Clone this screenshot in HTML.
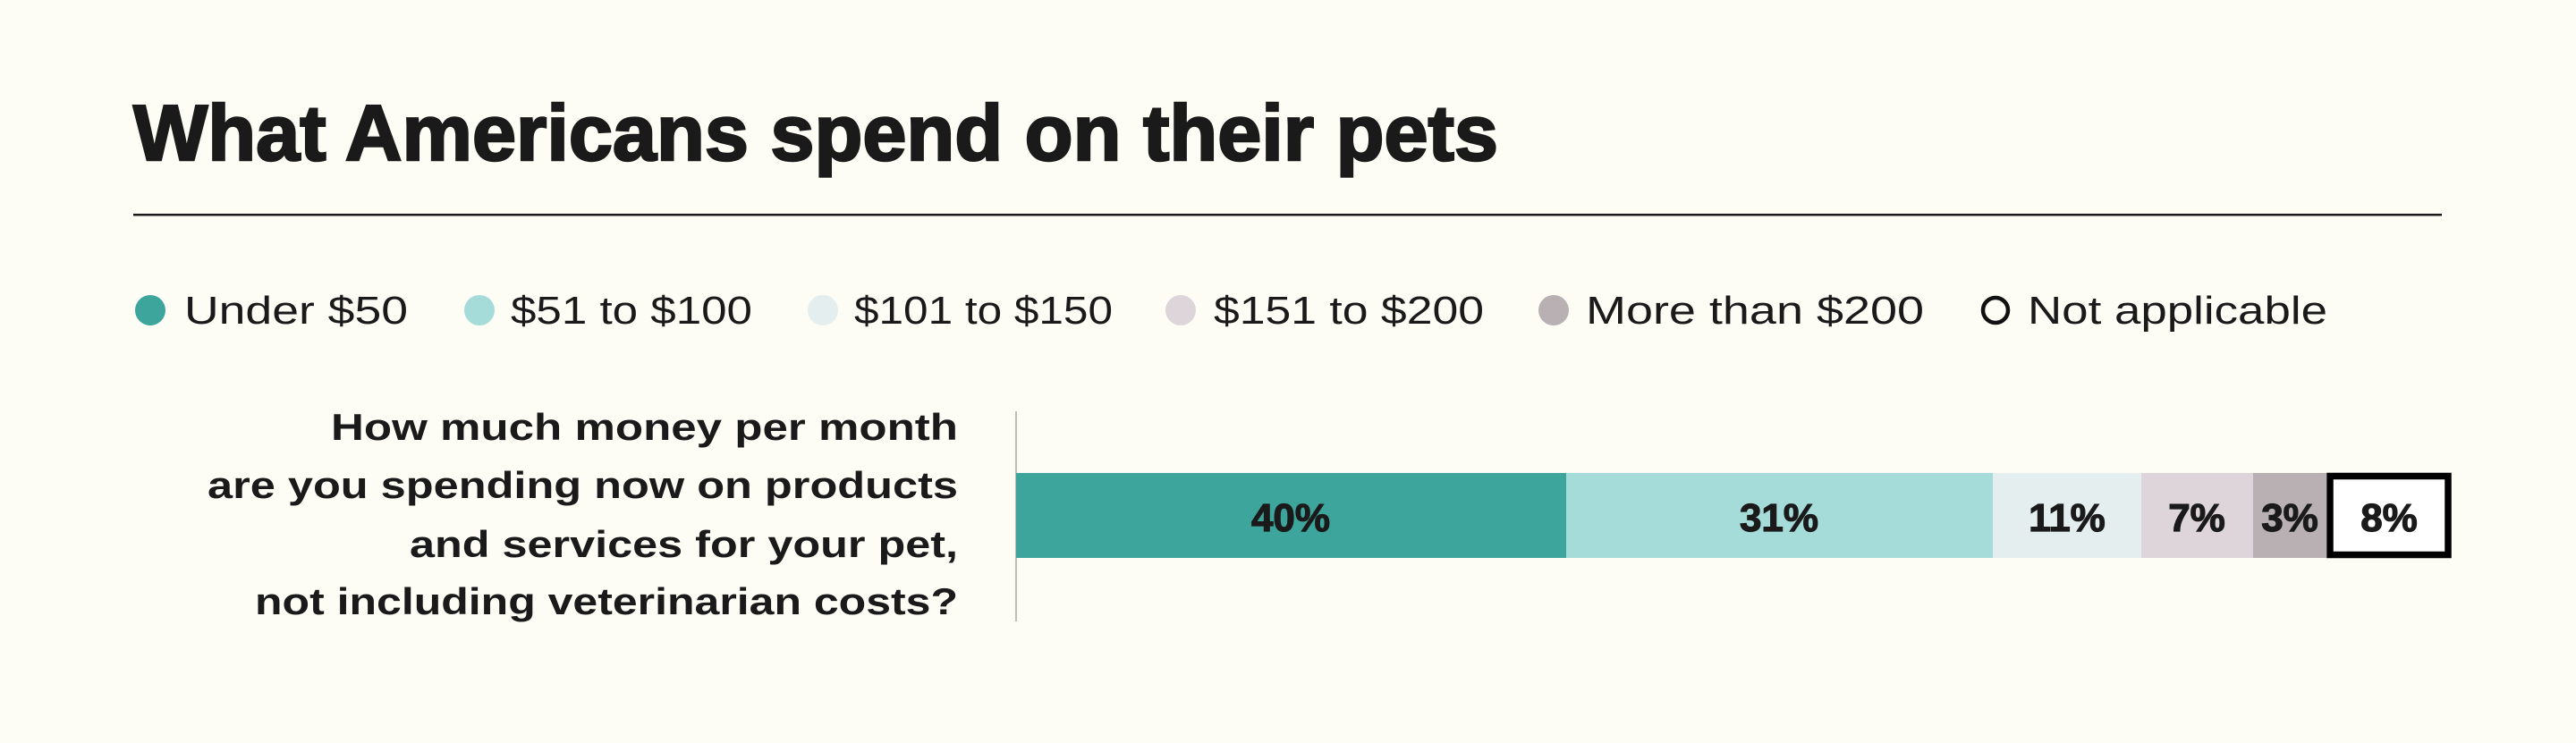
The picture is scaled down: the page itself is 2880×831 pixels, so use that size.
<!DOCTYPE html>
<html><head><style>
html,body{margin:0;padding:0;background:#fdfdf6;}
svg{display:block;}
text{font-family:"Liberation Sans",sans-serif;fill:#1a1a1a;}
</style></head><body>
<svg width="2880" height="831" viewBox="0 0 2880 831" xmlns="http://www.w3.org/2000/svg">
<rect width="2880" height="831" fill="#fdfdf6"/>
<text x="149" y="179" font-size="88" font-weight="bold" stroke="#1a1a1a" stroke-width="2.5" textLength="1526" lengthAdjust="spacingAndGlyphs">What Americans spend on their pets</text>
<rect x="149" y="239" width="2581" height="2.5" fill="#1a1a1a"/>
<g font-size="44">
<circle cx="168" cy="347" r="17" fill="#3ea59d"/>
<text x="206" y="362" textLength="250" lengthAdjust="spacingAndGlyphs">Under $50</text>
<circle cx="536" cy="347" r="17" fill="#a5dbd8"/>
<text x="571" y="362" textLength="270" lengthAdjust="spacingAndGlyphs">$51 to $100</text>
<circle cx="920" cy="347" r="17" fill="#e4eeee"/>
<text x="955" y="362" textLength="289" lengthAdjust="spacingAndGlyphs">$101 to $150</text>
<circle cx="1320" cy="347" r="17" fill="#ddd5d9"/>
<text x="1357" y="362" textLength="302" lengthAdjust="spacingAndGlyphs">$151 to $200</text>
<circle cx="1737" cy="347" r="17" fill="#b8b0b3"/>
<text x="1773" y="362" textLength="378" lengthAdjust="spacingAndGlyphs">More than $200</text>
<circle cx="2231" cy="347" r="14" fill="none" stroke="#111" stroke-width="4.5"/>
<text x="2267" y="362" textLength="335" lengthAdjust="spacingAndGlyphs">Not applicable</text>
</g>
<g font-size="42" font-weight="bold" text-anchor="end">
<text x="1071" y="492" textLength="701" lengthAdjust="spacingAndGlyphs">How much money per month</text>
<text x="1071" y="557" textLength="839" lengthAdjust="spacingAndGlyphs">are you spending now on products</text>
<text x="1071" y="623" textLength="613" lengthAdjust="spacingAndGlyphs">and services for your pet,</text>
<text x="1071" y="687" textLength="786" lengthAdjust="spacingAndGlyphs">not including veterinarian costs?</text>
</g>
<rect x="1135" y="460" width="2" height="235" fill="#bdbdbd"/>
<rect x="1136" y="529" width="615" height="95" fill="#3ea59d"/>
<rect x="1751" y="529" width="477" height="95" fill="#a5dbd8"/>
<rect x="2228" y="529" width="166" height="95" fill="#e4eeee"/>
<rect x="2394" y="529" width="125" height="95" fill="#ddd5d9"/>
<rect x="2519" y="529" width="82" height="95" fill="#b8b0b3"/>
<rect x="2605" y="532.5" width="132" height="88" fill="#fff" stroke="#000" stroke-width="7.5"/>
<g font-size="44" font-weight="bold" text-anchor="middle" stroke="#1a1a1a" stroke-width="1.2">
<text x="1443" y="594">40%</text>
<text x="1989" y="594">31%</text>
<text x="2311" y="594">11%</text>
<text x="2456" y="594">7%</text>
<text x="2560" y="594">3%</text>
<text x="2671" y="594">8%</text>
</g>
</svg>
</body></html>
